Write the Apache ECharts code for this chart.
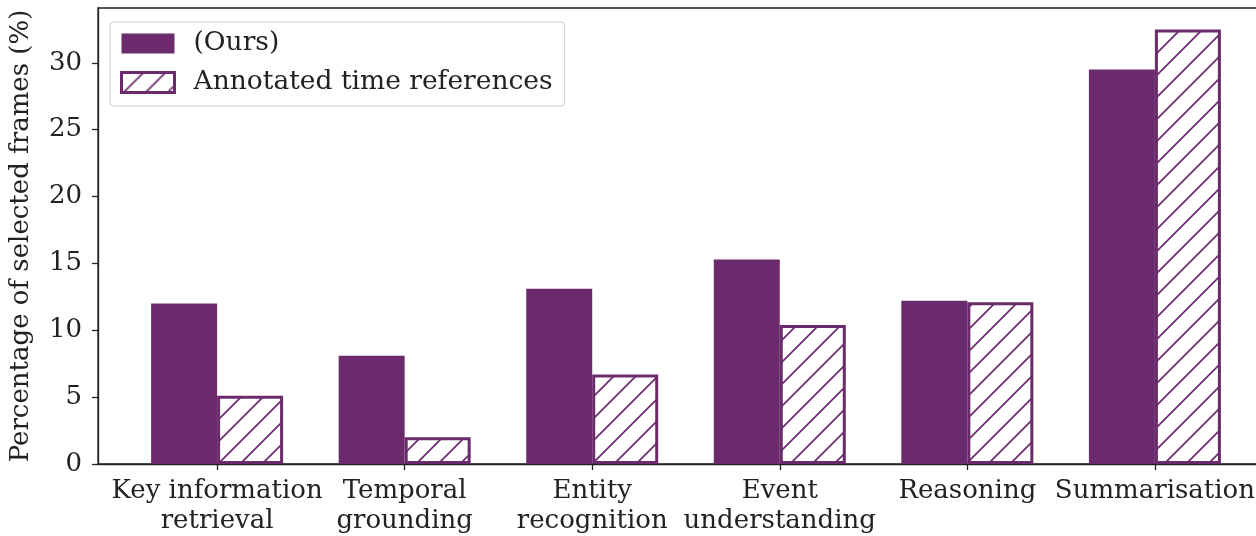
<!DOCTYPE html>
<html>
<head>
<meta charset="utf-8">
<script src="https://cdn.jsdelivr.net/npm/echarts@6/dist/echarts.min.js"></script>
<style>
  html, body { margin: 0; padding: 0; background: #fff; overflow: hidden; width: 1256px; height: 536px; }
  #chart { width: 1290px; height: 536px; }
</style>
</head>
<body>
<div id="chart"></div>
<script>
// Task categories along the x axis
const categories = [
  'Key information\nretrieval',
  'Temporal\ngrounding',
  'Entity\nrecognition',
  'Event\nunderstanding',
  'Reasoning',
  'Summarisation'
];
// Share of selected frames (%) per category
const oursValues = [12.0, 8.1, 13.1, 15.3, 12.2, 29.5];
const annotatedValues = [5.1, 2.0, 6.7, 10.4, 12.1, 32.5];
const yTicks = [0, 5, 10, 15, 20, 25, 30];
const seriesNames = ['(Ours)', 'Annotated time references'];

const PURPLE = '#6a2a6c';
const INK = '#222222';
const FONT = 'DejaVu Serif';
const FS = 26;

// Diagonal "/" hatch tile used as a fill pattern
function makeHatch() {
  const s = 22;
  const c = document.createElement('canvas');
  c.width = s; c.height = s;
  const g = c.getContext('2d');
  g.fillStyle = '#ffffff';
  g.fillRect(0, 0, s, s);
  g.strokeStyle = PURPLE;
  g.lineWidth = 1.7;
  g.lineCap = 'square';
  g.beginPath();
  g.moveTo(0, s); g.lineTo(s, 0);
  g.moveTo(-s / 2, s / 2); g.lineTo(s / 2, -s / 2);
  g.moveTo(s / 2, s + s / 2); g.lineTo(s + s / 2, s / 2);
  g.stroke();
  return c;
}
const hatch = { image: makeHatch(), repeat: 'repeat' };

const catIdx = categories.map((_, i) => i);

const chart = echarts.init(document.getElementById('chart'), null, { renderer: 'canvas' });
chart.setOption({
  backgroundColor: '#ffffff',
  animation: false,
  textStyle: { fontFamily: FONT },
  grid: {
    left: 97, right: 16, top: 8, bottom: 71,
    show: true, borderColor: INK, borderWidth: 1.3,
    backgroundColor: 'transparent'
  },
  legend: {
    orient: 'vertical',
    left: 110, top: 22,
    itemWidth: 53, itemHeight: 20, itemGap: 12,
    padding: [8, 12, 10, 10],
    backgroundColor: 'rgba(255,255,255,0.85)',
    borderColor: '#cccccc', borderWidth: 1, borderRadius: 4,
    icon: 'rect',
    textStyle: { fontFamily: FONT, fontSize: 26.5, color: INK, padding: [0, 0, 0, 14] },
    data: [
      { name: seriesNames[0] },
      { name: seriesNames[1], itemStyle: { borderWidth: 3, borderColor: PURPLE } }
    ]
  },
  xAxis: {
    type: 'value',
    min: -0.635, max: 5.635,
    splitLine: { show: false },
    axisLine: { show: true, onZero: false, lineStyle: { color: INK, width: 1.3 } },
    axisTick: { show: true, length: 6, customValues: catIdx, lineStyle: { color: INK, width: 1.3 } },
    axisLabel: {
      customValues: catIdx,
      formatter: v => categories[Math.round(v)],
      fontFamily: FONT, fontSize: FS, color: INK,
      lineHeight: 30, margin: 12, align: 'center'
    }
  },
  yAxis: {
    type: 'value',
    min: 0, max: 34.1,
    name: 'Percentage of selected frames (%)',
    nameLocation: 'middle',
    nameGap: 64,
    nameTextStyle: { fontFamily: FONT, fontSize: FS, color: INK },
    splitLine: { show: false },
    axisLine: { show: true, onZero: false, lineStyle: { color: INK, width: 1.3 } },
    axisTick: { show: true, length: 6, customValues: yTicks, lineStyle: { color: INK, width: 1.3 } },
    axisLabel: {
      customValues: yTicks,
      fontFamily: FONT, fontSize: FS, color: INK, margin: 16
    }
  },
  series: [
    {
      name: seriesNames[0],
      type: 'bar',
      barWidth: 66,
      barGap: '0%',
      itemStyle: { color: PURPLE },
      data: oursValues.map((v, i) => [i, v])
    },
    {
      name: seriesNames[1],
      type: 'bar',
      barWidth: 66,
      barGap: '0%',
      itemStyle: { color: hatch, borderColor: PURPLE, borderWidth: 3 },
      data: annotatedValues.map((v, i) => [i, v])
    }
  ]
});
</script>
</body>
</html>
